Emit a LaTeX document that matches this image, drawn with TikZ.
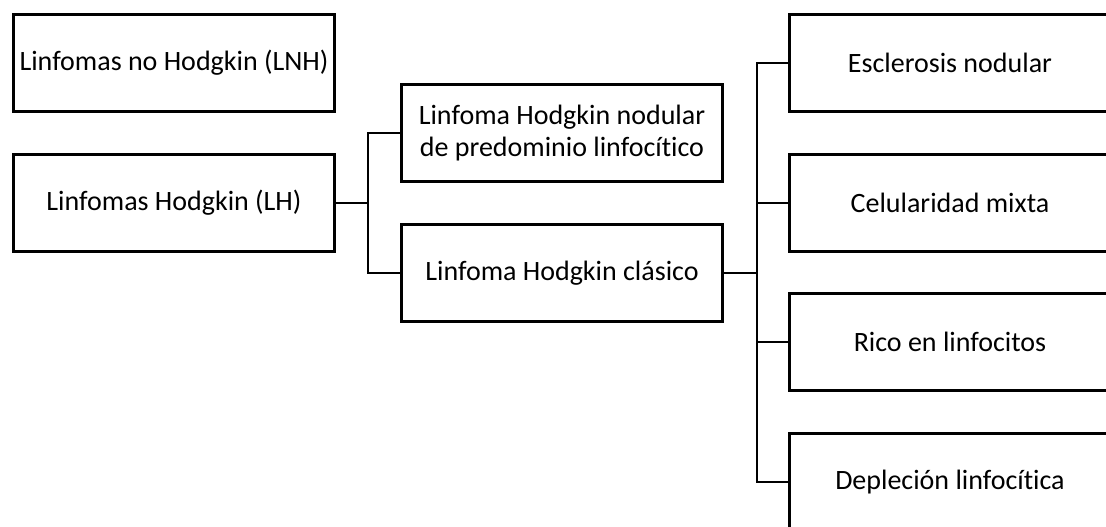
\documentclass[tikz,border=0pt]{standalone}
\usepackage{fontspec}
\setmainfont{Carlito}[Ligatures={NoCommon,NoContextual}]
\begin{document}
\begin{tikzpicture}[x=1pt,y=1pt,
  box/.style={draw=black, line width=3.3pt, minimum width=321pt, minimum height=97pt,
    inner sep=0pt, align=center, font=\fontsize{28}{32}\selectfont},
  link/.style={draw=black, line width=2pt}]
\useasboundingbox (0,0) rectangle (1106,-527);
\clip (0,0) rectangle (1106,-527);
% left column
\node[box] (lnh) at (174,-63) {Linfomas no Hodgkin (LNH)};
\node[box] (lh) at (174,-203) {Linfomas Hodgkin (LH)};
% middle column
\node[box] (nlp) at (562,-133) {Linfoma Hodgkin nodular\\de predominio linfocítico};
\node[box] (clas) at (562,-273) {Linfoma Hodgkin clásico};
% right column (runs past the page edge)
\node[box] (esc) at (950,-63) {Esclerosis nodular};
\node[box] (cel) at (950,-203) {Celularidad mixta};
\node[box] (rico) at (950,-342) {Rico en linfocitos};
\node[box] (dep) at (950,-482) {Depleción linfocítica};
% branch points
\coordinate (j1) at (368,-203);
\coordinate (j2) at (757,-273);
% connectors
\draw[link] (lh.east) -- (j1);
\draw[link] (nlp.west) -| (j1);
\draw[link] (clas.west) -| (j1);
\draw[link] (clas.east) -- (j2);
\draw[link] (esc.west) -| (j2);
\draw[link] (cel.west) -| (j2);
\draw[link] (rico.west) -| (j2);
\draw[link] (dep.west) -| (j2);
\end{tikzpicture}
\end{document}
